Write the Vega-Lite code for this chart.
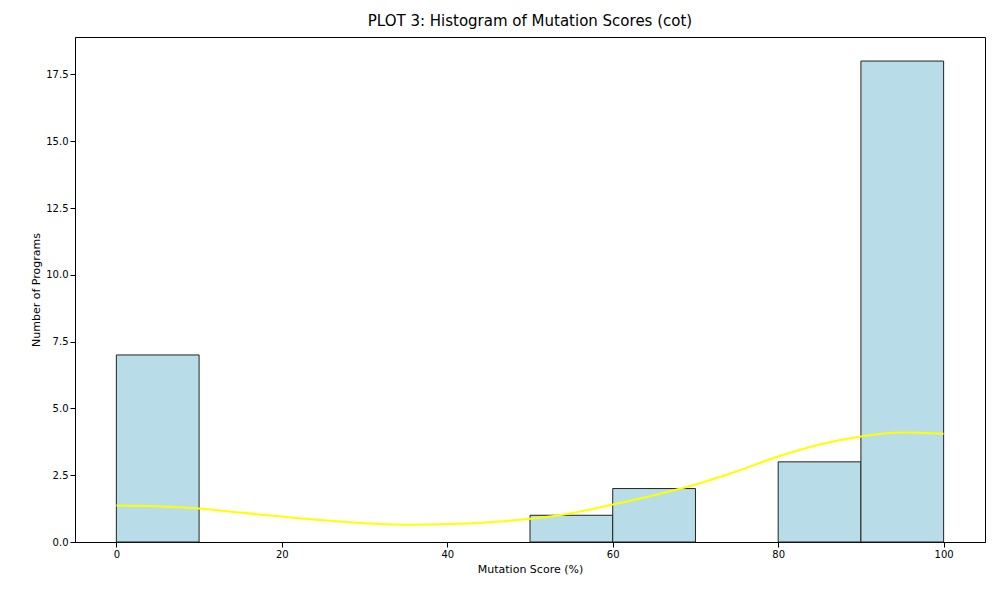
{
  "$schema": "https://vega.github.io/schema/vega-lite/v6.json",
  "autosize": "none",
  "width": 910,
  "height": 505,
  "padding": {"left": 75, "top": 37, "right": 15, "bottom": 58},
  "title": {"text": "PLOT 3: Histogram of Mutation Scores (cot)", "fontSize": 15, "fontWeight": "normal", "font": "DejaVu Sans", "offset": 8},
  "datasets": {
    "bins": [
      {"start": 0, "end": 10, "count": 7},
      {"start": 50, "end": 60, "count": 1},
      {"start": 60, "end": 70, "count": 2},
      {"start": 80, "end": 90, "count": 3},
      {"start": 90, "end": 100, "count": 18}
    ],
    "kde": [
      {"x": 0, "y": 1.37}, {"x": 5, "y": 1.34}, {"x": 10, "y": 1.25}, {"x": 15, "y": 1.1},
      {"x": 20, "y": 0.95}, {"x": 25, "y": 0.81}, {"x": 30, "y": 0.7}, {"x": 35, "y": 0.65},
      {"x": 40, "y": 0.67}, {"x": 45, "y": 0.74}, {"x": 50, "y": 0.87}, {"x": 55, "y": 1.08},
      {"x": 60, "y": 1.4}, {"x": 65, "y": 1.75}, {"x": 70, "y": 2.15}, {"x": 75, "y": 2.65},
      {"x": 80, "y": 3.2}, {"x": 85, "y": 3.65}, {"x": 90, "y": 3.95}, {"x": 95, "y": 4.1},
      {"x": 100, "y": 4.05}
    ]
  },
  "config": {
    "font": "DejaVu Sans",
    "view": {"stroke": "black"},
    "axis": {"grid": false, "domainColor": "black", "tickColor": "black", "labelColor": "black", "titleColor": "black", "labelFontSize": 10, "titleFontSize": 11, "titleFontWeight": "normal"}
  },
  "layer": [
    {
      "data": {"name": "bins"},
      "mark": {"type": "rect", "fill": "#b9dde8", "stroke": "#222222", "strokeWidth": 1},
      "encoding": {
        "x": {"field": "start", "type": "quantitative", "scale": {"domain": [-5, 105], "nice": false, "zero": false}, "axis": {"values": [0, 20, 40, 60, 80, 100], "title": "Mutation Score (%)"}},
        "x2": {"field": "end"},
        "y": {"field": "count", "type": "quantitative", "scale": {"domain": [0, 18.9], "nice": false}, "axis": {"values": [0, 2.5, 5, 7.5, 10, 12.5, 15, 17.5], "format": ".1f", "title": "Number of Programs"}},
        "y2": {"datum": 0}
      }
    },
    {
      "data": {"name": "kde"},
      "mark": {"type": "line", "color": "yellow", "strokeWidth": 2, "interpolate": "monotone"},
      "encoding": {
        "x": {"field": "x", "type": "quantitative"},
        "y": {"field": "y", "type": "quantitative"}
      }
    }
  ]
}
